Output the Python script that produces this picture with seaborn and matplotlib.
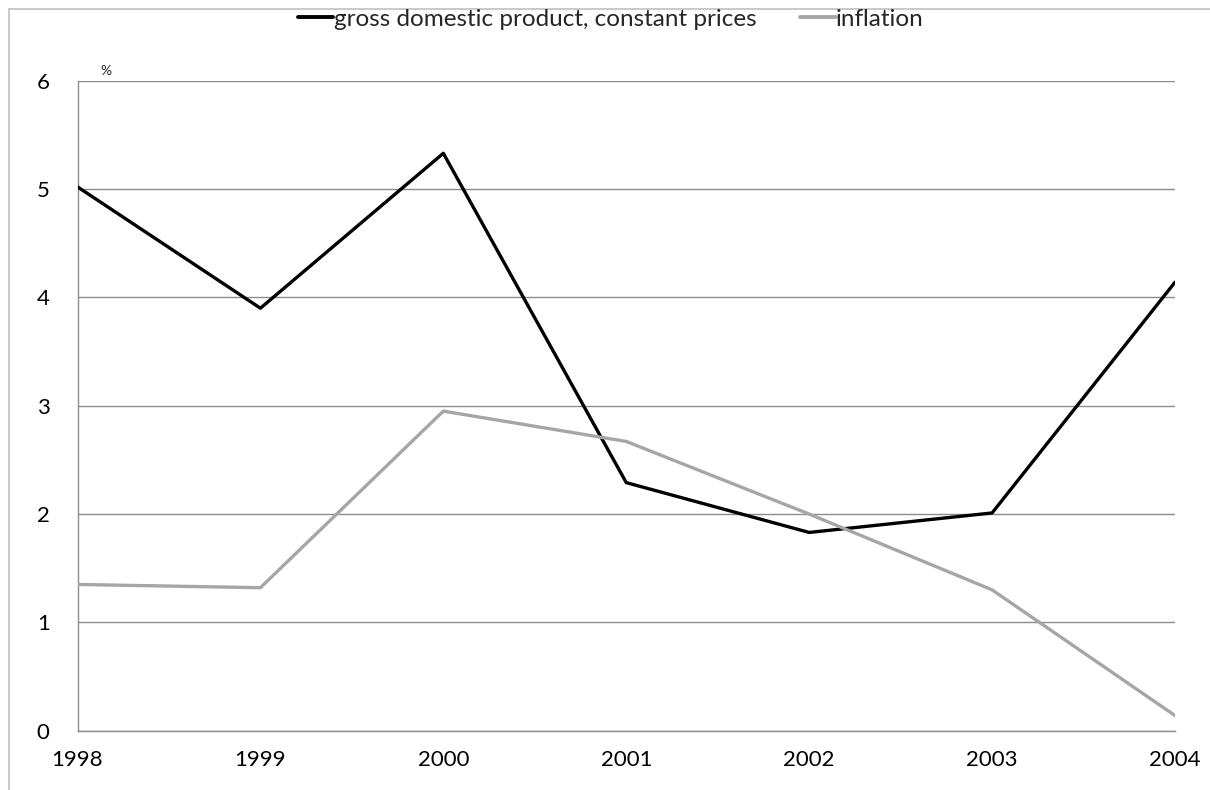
import matplotlib
matplotlib.use("Agg")
import matplotlib.pyplot as plt
import seaborn as sns
import pandas as pd
from matplotlib.lines import Line2D

years = [1998, 1999, 2000, 2001, 2002, 2003, 2004]
gdp = [5.02, 3.90, 5.33, 2.29, 1.83, 2.01, 4.14]
inflation = [1.35, 1.32, 2.95, 2.67, 2.00, 1.30, 0.14]
series_names = ["gross domestic product, constant prices", "inflation"]
y_ticks = [0, 1, 2, 3, 4, 5, 6]

df = pd.DataFrame({
    "year": years * 2,
    "value": gdp + inflation,
    "series": [series_names[0]] * len(years) + [series_names[1]] * len(years),
})

sns.set_theme(style="white")
plt.rcParams["font.family"] = ["Lato", "DejaVu Sans"]

W, H = 1210, 790
fig = plt.figure(figsize=(W / 100, H / 100), dpi=100)
# outer chart frame (only top and left edges are visible in the picture)
fig.add_artist(Line2D([8.5 / W, 1.0], [1 - 8.5 / H, 1 - 8.5 / H], transform=fig.transFigure,
                      color="#c0c0c0", linewidth=1.2))
fig.add_artist(Line2D([8.5 / W, 8.5 / W], [0.0, 1 - 8.5 / H], transform=fig.transFigure,
                      color="#c0c0c0", linewidth=1.2))

ax = fig.add_axes([77.5 / W, (H - 730.7) / H,
                   (1175 - 77.5) / W, (730.7 - 80.7) / H])

sns.lineplot(data=df, x="year", y="value", hue="series", ax=ax,
             palette={series_names[0]: "#000000", series_names[1]: "#a6a6a6"},
             linewidth=2.4, legend=False, zorder=3)

ax.set_xlim(years[0], years[-1])
ax.set_ylim(0, 6)
ax.set_xticks(years)
ax.set_xticklabels([str(y) for y in years])
ax.set_yticks(y_ticks)
ax.set_xlabel("")
ax.set_ylabel("")
ax.yaxis.grid(True, color="#8c8c8c", linewidth=1.0)
ax.xaxis.grid(False)
for s in ["top", "right"]:
    ax.spines[s].set_visible(False)
for s in ["left", "bottom"]:
    ax.spines[s].set_color("#8c8c8c")
    ax.spines[s].set_linewidth(1.0)
ax.tick_params(axis="both", which="both", length=8, width=1.0, color="#8c8c8c",
               labelsize=16, labelcolor="black", direction="out")
ax.tick_params(axis="x", pad=6)
ax.tick_params(axis="y", pad=12)

fig.text(106 / W, 1 - 71 / H, "%", fontsize=10, ha="center", va="center")

handles = [Line2D([], [], color="#000000", linewidth=2.8),
           Line2D([], [], color="#a6a6a6", linewidth=2.8)]
fig.legend(handles, series_names, loc="center", bbox_to_anchor=(611 / W, 1 - 19 / H),
           ncol=2, frameon=False, fontsize=17.5, handlelength=1.45, handletextpad=0.02,
           columnspacing=1.8, borderpad=0, borderaxespad=0)

fig.savefig("out.png", dpi=100)
